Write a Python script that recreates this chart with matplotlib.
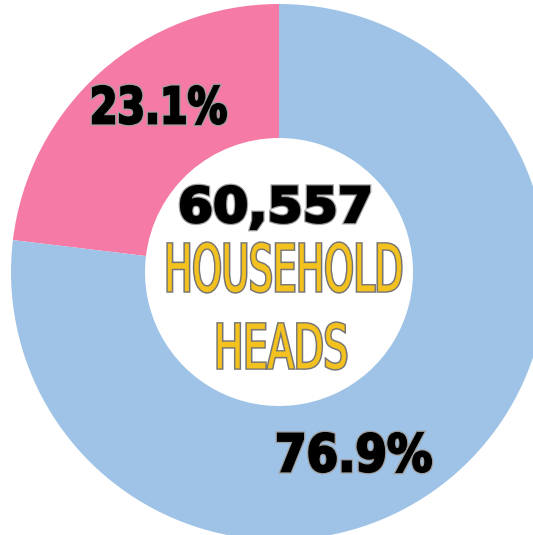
import matplotlib
matplotlib.use('Agg')
import matplotlib.pyplot as plt
from matplotlib.textpath import TextPath
from matplotlib.font_manager import FontProperties
from matplotlib.patches import PathPatch
from matplotlib.transforms import Affine2D

# Data
categories = ['Female', 'Male']
shares = [23.1, 76.9]
colors = ['#F57AA6', '#9EC3E6']
total_heads = 60557
title_lines = ['HOUSEHOLD', 'HEADS']

W, H = 533, 535


def draw_text(ax, s, x0, y0, x1, y1, face, outline, inner_lw, outer_lw,
              family='DejaVu Sans', weight='bold'):
    """Draw text as a path stretched to fill a box given in image pixels."""
    tp = TextPath((0, 0), s, size=100, prop=FontProperties(family=family, weight=weight))
    bb = tp.get_extents()
    top, bottom = H - y0, H - y1
    tr = (Affine2D()
          .translate(-bb.x0, -bb.y0)
          .scale((x1 - x0) / bb.width, (top - bottom) / bb.height)
          .translate(x0, bottom))
    path = tr.transform_path(tp)
    # outline underneath, then fill on top
    ax.add_patch(PathPatch(path, fc=outline, ec=outline, lw=outer_lw,
                           joinstyle='miter', zorder=5))
    ax.add_patch(PathPatch(path, fc=face, ec=face, lw=inner_lw,
                           joinstyle='miter', zorder=6))


fig = plt.figure(figsize=(W / 100, H / 100), dpi=100)
ax = fig.add_axes([0, 0, 1, 1])

ax.pie(shares, colors=colors, startangle=90, counterclock=True,
       center=(279, H - 272), radius=268,
       wedgeprops=dict(width=134, linewidth=0), frame=True)
ax.set_xlim(0, W)
ax.set_ylim(0, H)
ax.set_aspect('equal')
ax.axis('off')

# centre texts
draw_text(ax, f'{total_heads:,}', 181, 186, 369, 229, 'black', '#a0a0a0', 1.6, 3.4)
draw_text(ax, title_lines[0], 168, 243, 401, 292, '#F4C21F', '#747474', 0.3, 2.4,
          weight='normal')
draw_text(ax, title_lines[1], 218, 323, 346, 369, '#F4C21F', '#747474', 0.3, 2.4,
          weight='normal')

# percentage labels
draw_text(ax, f'{shares[0]}%', 93, 86, 226, 124, 'black', '#a0a0a0', 1.6, 3.4)
draw_text(ax, f'{shares[1]}%', 278, 433, 431, 472, 'black', '#a0a0a0', 1.6, 3.4)

fig.savefig('out.png', dpi=100)
